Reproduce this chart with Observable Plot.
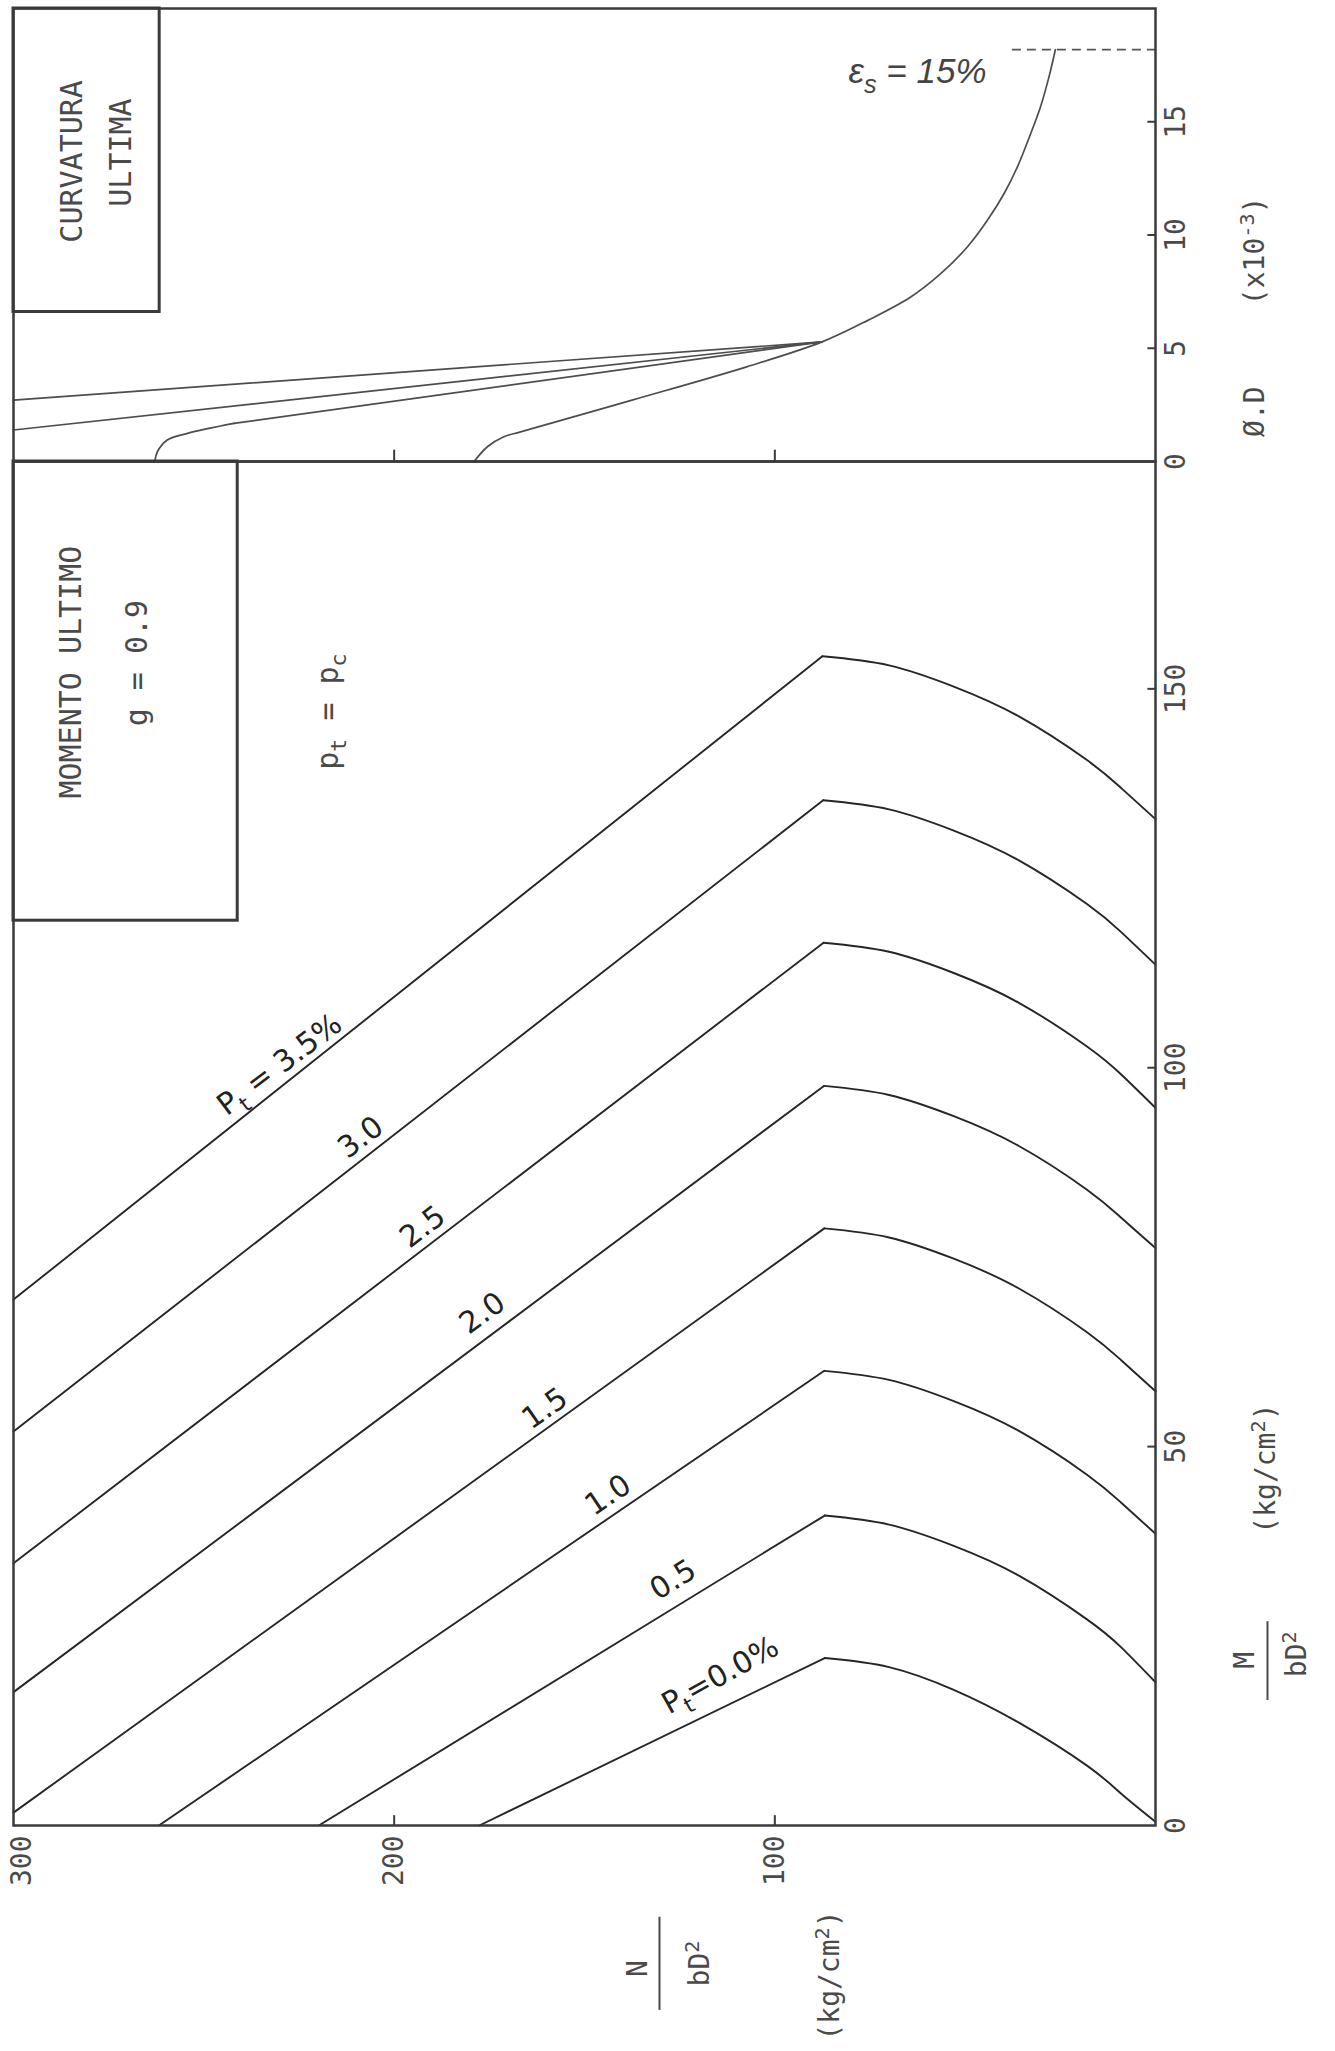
<!DOCTYPE html>
<html><head><meta charset="utf-8">
<script src="https://cdn.jsdelivr.net/npm/d3@7"></script>
<script src="https://cdn.jsdelivr.net/npm/@observablehq/plot@0.6"></script>
<style>
html,body{margin:0;padding:0;background:#fff;}
#wrap{position:relative;width:1335px;height:2051px;overflow:hidden;background:#fff;}
#wrap svg{position:absolute;left:0;overflow:visible;background:transparent;}
</style></head>
<body><div id="wrap"></div>
<script>
// ---------------- DATA ----------------
// Lower panel: ultimate moment M/bD^2 vs axial load N/bD^2 (kg/cm2), g = 0.9, pt = pc
const ptLabels   = ["3.5","3.0","2.5","2.0","1.5","1.0","0.5","0.0"];
// compression branch: start point and balance point
const compStartN = [300, 300, 300, 300, 300, 261.8, 219.8, 177.6];
const compStartM = [69.4, 52.0, 34.6, 17.6, 1.7, 0, 0, 0];
const balanceN   = [87.5, 87.3, 87.2, 87.1, 87.0, 87.0, 86.9, 86.9];
const balanceM   = [154.3, 135.3, 116.5, 97.6, 78.8, 60.0, 40.9, 22.1];
// tension branch (read at these N values)
const tensionN   = [70, 53, 36, 18, 9, 0];
const tensionM   = [
  [153.1, 150.3, 146.4, 140.6, 136.9, 132.8],
  [134.1, 131.3, 127.4, 121.6, 117.9, 113.6],
  [115.3, 112.5, 108.6, 102.8,  99.1,  94.7],
  [ 96.4,  93.6,  89.7,  83.9,  80.2,  76.2],
  [ 77.6,  74.8,  70.9,  65.1,  61.4,  57.3],
  [ 58.8,  56.0,  52.1,  46.3,  42.6,  38.5],
  [ 39.7,  36.9,  33.0,  27.2,  23.5,  18.9],
  [ 20.9,  17.9,  13.6,   7.9,   4.2,   0.5]
];
// curve labels
const labelText  = ["P_t = 3.5%", "3.0", "2.5", "2.0", "1.5", "1.0", "0.5", "P_t=0.0%"];
const labelN     = [230.1, 208.8, 192.5, 176.8, 160.4, 143.8, 126.7, 114.3];
const labelM     = [100.4, 90.8, 79.0, 67.6, 55.0, 43.6, 32.4, 19.8];
const labelAngle = [-37, -37, -37, -36, -35, -34, -32, -29];

// Upper panel: ultimate curvature phi.D (x10^-3) vs N/bD^2
const phiLineA_N = [300, 87.6],  phiLineA = [2.71, 5.28];
const phiLineB_N = [300, 87.6],  phiLineB = [1.39, 5.28];
const phiFootC_N = [262.9, 262.2, 259.6, 254.3, 242.1];
const phiFootC   = [0, 0.43, 0.95, 1.24, 1.68];
const phiLineC_N = [242.1, 87.6], phiLineC = [1.68, 5.28];
const phiMain_N  = [179, 175.5, 171.2, 166.8, 137.5, 107.4, 87.6, 75.7, 64.4, 56.5, 49.5, 44.2, 39.8, 36.3, 32.8, 30.2, 28.0, 26.3];
const phiMain    = [0, 0.65, 1.09, 1.31, 2.71, 4.18, 5.28, 6.22, 7.25, 8.28, 9.46, 10.64, 11.82, 13.0, 14.47, 15.66, 16.97, 18.18];
const epsLimitPhi = 18.18;
const epsDashN    = [37.6, 0];

// ticks
const nTickLabels = [300, 200, 100];
const nInnerTicks = [200, 100];
const mTicks      = [0, 50, 100, 150];
const phiTicks    = [0, 5, 10, 15];

// annotation boxes
const curvBoxN = [300, 261.6], curvBoxPhi = [6.6, 20];
const momBoxN  = [300, 241.1], momBoxM   = [119.4, 180];

// ---------------- TABLES ----------------
const compTable = ptLabels.flatMap((p, i) => [
  {pt: p, N: compStartN[i], M: compStartM[i]},
  {pt: p, N: balanceN[i],   M: balanceM[i]}
]);
const tensTable = ptLabels.flatMap((p, i) => [
  {pt: p, N: balanceN[i], M: balanceM[i]},
  ...tensionN.map((n, j) => ({pt: p, N: n, M: tensionM[i][j]}))
]);
const zipPhi = (id, Ns, Ps) => Ns.map((n, i) => ({id, N: n, phi: Ps[i]}));
const phiStraight = [
  ...zipPhi("A", phiLineA_N, phiLineA),
  ...zipPhi("B", phiLineB_N, phiLineB),
  ...zipPhi("C", phiLineC_N, phiLineC)
];
const phiCurved = [
  ...zipPhi("C", phiFootC_N, phiFootC),
  ...zipPhi("D", phiMain_N, phiMain)
];
const labelIdx = ptLabels.map((_, i) => i);

// ---------------- STYLE ----------------
const ink = "#3a3a3a";
const txt = "#4a4a4a";
const mono = "DejaVu Sans Mono";
const hand = "DejaVu Sans";
const rot = (extra) => Object.assign({rotate: -90, textAnchor: "middle", lineAnchor: "middle",
  fontFamily: mono, fontSize: 28, fill: txt, text: d => String(d)}, extra);

const wrap = document.getElementById("wrap");

const upper = Plot.plot({
  width: 1335, height: 461,
  marginTop: 8, marginBottom: 0, marginLeft: 13, marginRight: 180,
  x: {domain: [300, 0], axis: null},
  y: {domain: [0, 20], axis: null},
  style: {background: "transparent", overflow: "visible"},
  marks: [
    Plot.rect([0], {x1: curvBoxN[0], x2: curvBoxN[1], y1: curvBoxPhi[0], y2: curvBoxPhi[1],
      fill: "none", stroke: ink, strokeWidth: 3}),
    Plot.line(phiStraight, {x: "N", y: "phi", z: "id", stroke: "#4d4d4d", strokeWidth: 1.7}),
    Plot.line(phiCurved, {x: "N", y: "phi", z: "id", curve: "catmull-rom", stroke: "#4d4d4d", strokeWidth: 1.7}),
    Plot.ruleY([epsLimitPhi], {x1: epsDashN[0], x2: epsDashN[1], stroke: "#555", strokeWidth: 1.7, strokeDasharray: "9,6"}),
    Plot.ruleY(phiTicks.filter(d => d > 0), {x1: 0, x2: 2, stroke: ink, strokeWidth: 2}),
    Plot.ruleX(nInnerTicks, {y1: 0, y2: 0.5, stroke: ink, strokeWidth: 2}),
    Plot.frame({stroke: ink, strokeWidth: 2.5}),
    Plot.text(phiTicks, rot({x: 0, y: d => d, dx: 21})),
    Plot.text(["Ø.D"], rot({x: 0, y: 2.2, dx: 100})),
    Plot.text(["(x10^{-3})"], rot({x: 0, y: 9.3, dx: 100})),
    Plot.text(["CURVATURA"], rot({x: 284.6, y: 13.25, fontSize: 30})),
    Plot.text(["ULTIMA"], rot({x: 271.7, y: 13.64, fontSize: 30})),
    Plot.text(["ε_s = 15%"], {x: 62.5, y: 17.2, text: d => d,
      textAnchor: "middle", lineAnchor: "middle", fontFamily: "Liberation Sans", fontStyle: "italic", fontSize: 35, fill: "#444"})
  ]
});
upper.style.top = "0px";
wrap.appendChild(upper);

const lower = Plot.plot({
  width: 1335, height: 1590,
  marginTop: 0, marginBottom: 226, marginLeft: 13, marginRight: 180,
  x: {domain: [300, 0], axis: null},
  y: {domain: [0, 180], axis: null},
  style: {background: "transparent", overflow: "visible"},
  marks: [
    Plot.rect([0], {x1: momBoxN[0], x2: momBoxN[1], y1: momBoxM[0], y2: momBoxM[1],
      fill: "none", stroke: ink, strokeWidth: 3}),
    Plot.line(compTable, {x: "N", y: "M", z: "pt", stroke: "#262626", strokeWidth: 1.9}),
    Plot.line(tensTable, {x: "N", y: "M", z: "pt", curve: "natural", stroke: "#262626", strokeWidth: 1.9}),
    Plot.ruleY(mTicks.filter(d => d > 0), {x1: 0, x2: 2, stroke: ink, strokeWidth: 2}),
    Plot.ruleX(nInnerTicks, {y1: 0, y2: 1.3, stroke: ink, strokeWidth: 2}),
    Plot.frame({stroke: ink, strokeWidth: 2.5}),
    Plot.text(labelIdx, {x: i => labelN[i], y: i => labelM[i], text: i => labelText[i], rotate: i => labelAngle[i],
      textAnchor: "middle", lineAnchor: "middle", fontFamily: hand, fontSize: 30, fill: "#222"}),
    Plot.text(["MOMENTO ULTIMO"], rot({x: 284.7, y: 152.2, fontSize: 30})),
    Plot.text(["g = 0.9"], rot({x: 267.4, y: 153.4, fontSize: 30})),
    Plot.text(["p_t = p_c"], rot({x: 217.4, y: 147.0, fontSize: 30})),
    // tick labels
    Plot.text(mTicks, rot({x: 0, y: d => d, dx: 21})),
    Plot.text(nTickLabels.filter(d => d === 300), rot({x: d => d, y: 0, dy: 10, dx: 9, textAnchor: "end"})),
    Plot.text(nTickLabels.filter(d => d !== 300), rot({x: d => d, y: 0, dy: 10, textAnchor: "end"})),
    // M axis title
    Plot.text(["M"], rot({x: 0, y: 21.8, dx: 90})),
    Plot.ruleX([0], {y1: 16.5, y2: 26.9, dx: 112, stroke: txt, strokeWidth: 2}),
    Plot.text(["bD^2"], rot({x: 0, y: 22.6, dx: 142})),
    Plot.text(["(kg/cm^2)"], rot({x: 0, y: 47.1, dx: 111})),
    // N axis title
    Plot.text(["N"], rot({x: 135.9, y: 0, dy: 143})),
    Plot.ruleX([130.3], {y1: -12.1, y2: -24.4, stroke: txt, strokeWidth: 2}),
    Plot.text(["bD^2"], rot({x: 119.6, y: 0, dy: 138})),
    Plot.text(["(kg/cm^2)"], rot({x: 85.4, y: 0, dy: 150}))
  ]
});
lower.style.top = "461px";
wrap.appendChild(lower);

// sub/superscripts: "a_b" / "a^b" / "a^{bc}"
function scripts(svg) {
  const ns = "http://www.w3.org/2000/svg";
  svg.querySelectorAll("text").forEach(t => {
    const s = t.textContent;
    if (!/[_^]/.test(s)) return;
    const holder = t.closest("[font-size]");
    const fs = holder ? parseFloat(holder.getAttribute("font-size")) : 28;
    const re = /([_^])(?:\{([^}]*)\}|(.))/g;
    const parts = [];
    let last = 0, m;
    while ((m = re.exec(s))) {
      if (m.index > last) parts.push({t: s.slice(last, m.index), k: 0});
      parts.push({t: m[2] !== undefined ? m[2] : m[3], k: m[1] === "_" ? 1 : -1});
      last = re.lastIndex;
    }
    if (last < s.length) parts.push({t: s.slice(last), k: 0});
    t.textContent = "";
    let offset = 0;
    parts.forEach(p => {
      const ts = document.createElementNS(ns, "tspan");
      ts.textContent = p.t;
      const target = p.k === 1 ? fs * 0.28 : p.k === -1 ? -fs * 0.38 : 0;
      if (target !== offset) { ts.setAttribute("dy", target - offset); offset = target; }
      if (p.k) ts.setAttribute("font-size", fs * 0.72);
      t.appendChild(ts);
    });
  });
}
scripts(upper);
scripts(lower);
</script>
</body></html>
